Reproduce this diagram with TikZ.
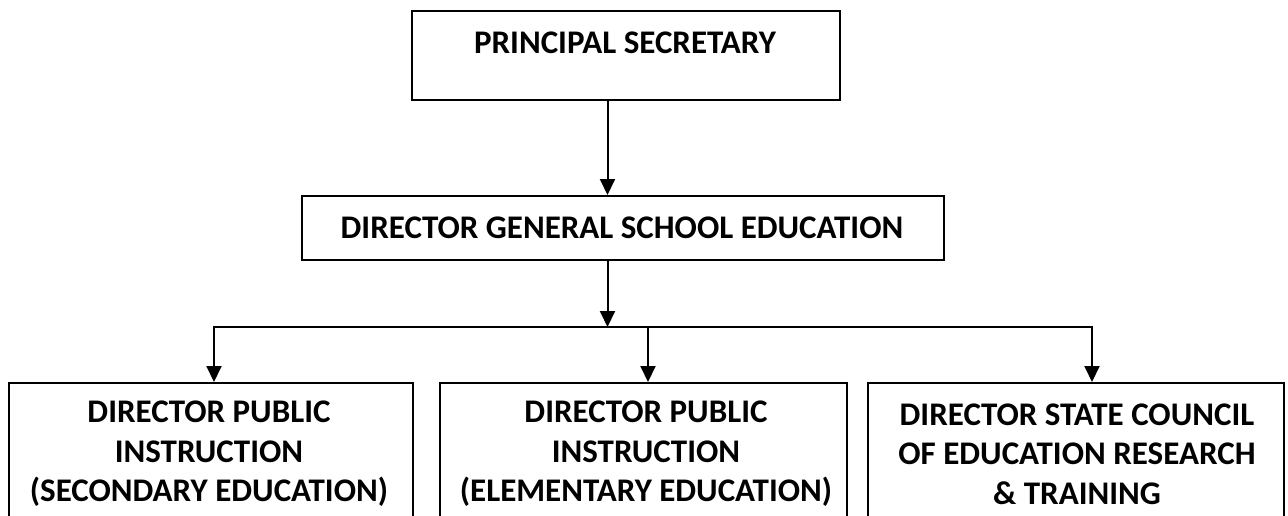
\documentclass[tikz,border=0pt]{standalone}
\usepackage{fontspec}
\setmainfont{Carlito}
\usetikzlibrary{arrows.meta}
\begin{document}
\begin{tikzpicture}[x=1pt,y=-1pt,
  box/.style={draw, line width=2pt, inner sep=0pt},
  lbl/.style={font=\bfseries\fontsize{33}{39.5}\selectfont, align=center, inner sep=0pt},
  conn/.style={line width=2pt, -{Triangle[width=15pt,length=16pt]}},
  plain/.style={line width=2pt}]
\useasboundingbox (0,0) rectangle (1288,516);
\clip (0,0) rectangle (1288,516);
% boxes
\node[box, minimum width=428pt, minimum height=89pt, anchor=north west] (ps) at (411,10) {};
\node[box, minimum width=642pt, minimum height=64pt, anchor=north west] (dg) at (301,195) {};
\node[box, minimum width=404pt, minimum height=160pt, anchor=north west] (b1) at (8,382) {};
\node[box, minimum width=407pt, minimum height=160pt, anchor=north west] (b2) at (439,382) {};
\node[box, minimum width=416pt, minimum height=160pt, anchor=north west] (b3) at (867,382) {};
% texts
\node[lbl] (pst) at (625,43) {PRINCIPAL SECRETARY};
\node[lbl] (dgt) at (622,228) {DIRECTOR GENERAL SCHOOL EDUCATION};
\node[lbl] (b1t) at (209,454) {DIRECTOR PUBLIC\\INSTRUCTION\\(SECONDARY EDUCATION)};
\node[lbl] (b2t) at (646,454) {DIRECTOR PUBLIC\\INSTRUCTION\\(ELEMENTARY EDUCATION)};
\node[lbl] (b3t) at (1077,454) {DIRECTOR STATE COUNCIL\\OF EDUCATION RESEARCH\\\& TRAINING};
% connectors
\coordinate (t1) at (607.5,0);
\coordinate (hc) at (607.5,327);
\coordinate (hl) at (214,327);
\coordinate (hm) at (648,327);
\coordinate (hr) at (1092,327);
\draw[conn] (t1 |- ps.south) -- (t1 |- dg.north);
\draw[conn] (t1 |- dg.south) -- (hc);
\draw[conn] (hc) -- (hl) -- (hl |- b1.north);
\draw[conn] (hc) -- (hr) -- (hr |- b3.north);
\draw[conn] (hm) -- (hm |- b2.north);
\end{tikzpicture}
\end{document}
